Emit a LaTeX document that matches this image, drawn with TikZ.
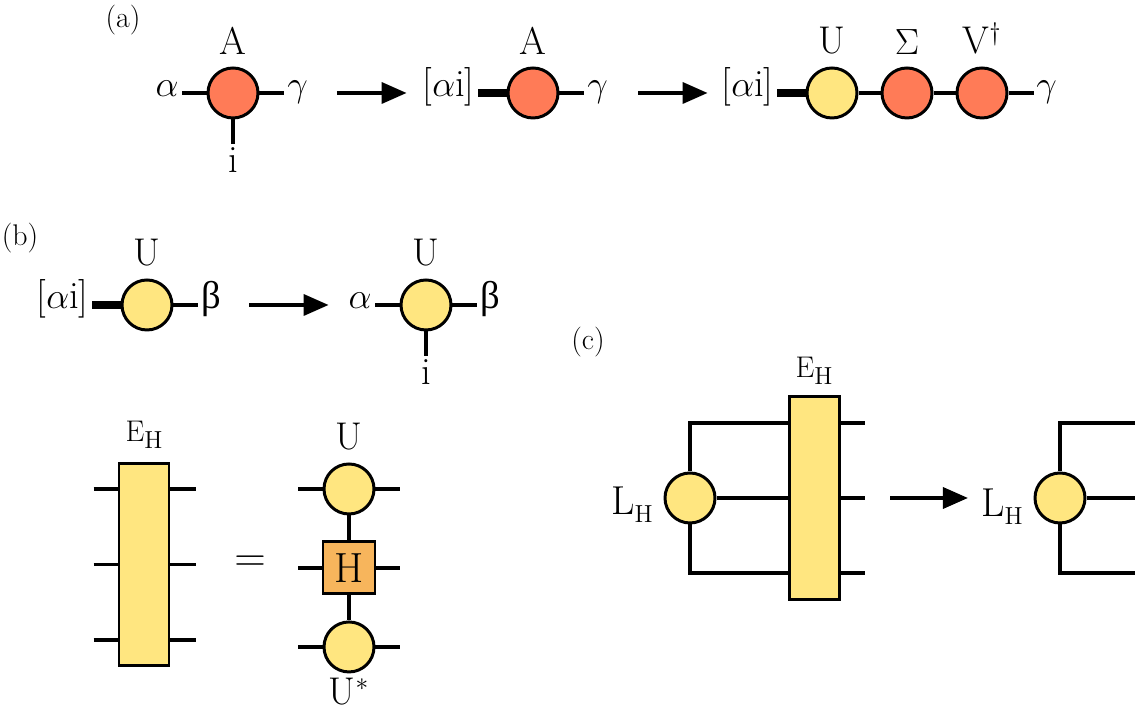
\documentclass[tikz,border=0pt]{standalone}
\usepackage{amsmath}
\usepackage{fontspec}
\usepackage{tikz}
\usetikzlibrary{arrows.meta,positioning}
\newfontfamily\grk{Liberation Serif}
\definecolor{tnred}{HTML}{FF7B57}
\definecolor{tnyellow}{HTML}{FFE680}
\definecolor{tnorange}{HTML}{F7B55C}
\newcommand{\subH}{\raisebox{-4pt}{\fontsize{14}{16}\selectfont H}}

\begin{document}
\begin{tikzpicture}[
    font=\fontsize{22}{26}\selectfont,
    tens/.style={circle,draw,line width=1.7pt,fill=tnred,minimum size=1cm,inner sep=0pt},
    unit/.style={tens,fill=tnyellow},
    hbox/.style={draw,line width=1.7pt,fill=tnorange,minimum size=1.04cm,inner sep=0pt,font=\fontsize{24}{28}\selectfont},
    env/.style={draw,line width=1.7pt,fill=tnyellow,minimum width=1cm,minimum height=4.05cm,inner sep=0pt},
    idx/.style={inner sep=1.5pt,text height=1ex,text depth=0pt},
    leg/.style={line width=2pt},
    fat/.style={line width=5pt},
    arr/.style={-{Triangle[length=5mm,width=4.2mm]},line width=2pt},
    paneltag/.style={font=\fontsize{17}{20}\selectfont},
    nameup/.style={label={[inner sep=0pt,label distance=0.24cm]above:#1}},
    namedown/.style={label={[inner sep=0pt,label distance=0.08cm]below:#1}},
    node distance=0.5cm
  ]
  \useasboundingbox (0,0) rectangle (22.94,14.24);

  % (a) splitting A
  \node[paneltag] (ta) at (2.46,13.84) {(a)};
  \node[tens,nameup=A] (A1) at (4.66,12.38) {};
  \node[idx,left=of A1] (al1) {$\alpha$};
  \node[idx,right=of A1] (ga1) {$\gamma$};
  \node[inner sep=1.5pt,below=of A1] (i1) {i};
  \draw[leg] (A1.west) -- (al1.east);
  \draw[leg] (A1.east) -- (ga1.west);
  \draw[leg] (A1.south) -- (i1.north);

  \node[tens,nameup=A] (A2) at (10.66,12.38) {};
  \node[idx,left=0.58cm of A2] (ai2) {[$\alpha$i]};
  \node[idx,right=of A2] (ga2) {$\gamma$};
  \draw[fat] (A2.west) -- (ai2.east);
  \draw[leg] (A2.east) -- (ga2.west);

  \node[unit,nameup=U] (U3) at (16.64,12.38) {};
  \node[tens,nameup=$\Sigma$] (S3) at (18.14,12.38) {};
  \node[tens,nameup=V$^\dagger$] (V3) at (19.64,12.38) {};
  \node[idx,left=0.58cm of U3] (ai3) {[$\alpha$i]};
  \node[idx,right=of V3] (ga3) {$\gamma$};
  \draw[fat] (U3.west) -- (ai3.east);
  \draw[leg] (U3) -- (S3);
  \draw[leg] (S3) -- (V3);
  \draw[leg] (V3.east) -- (ga3.west);

  \draw[arr,shorten <=0.52cm,shorten >=0.26cm] (ga1.east) -- (ai2.west);
  \draw[arr,shorten <=0.55cm,shorten >=0.22cm] (ga2.east) -- (ai3.west);

  % (b) reshaping U
  \node[paneltag] (tb) at (0.4,9.48) {(b)};
  \node[unit,nameup=U] (U4) at (2.94,8.14) {};
  \node[idx,left=0.58cm of U4] (ai4) {[$\alpha$i]};
  \node[idx,right=of U4] (be4) {{\grk β}};
  \draw[fat] (U4.west) -- (ai4.east);
  \draw[leg] (U4.east) -- (be4.west);

  \node[unit,nameup=U] (U5) at (8.52,8.14) {};
  \node[idx,left=of U5] (al5) {$\alpha$};
  \node[idx,right=of U5] (be5) {{\grk β}};
  \node[inner sep=1.5pt,below=of U5] (i5) {i};
  \draw[leg] (U5.west) -- (al5.east);
  \draw[leg] (U5.east) -- (be5.west);
  \draw[leg] (U5.south) -- (i5.north);

  \draw[arr,shorten <=0.5cm,shorten >=0.34cm] (be4.east) -- (al5.west);

  % E_H = U H U*
  \node[env] (EH1) at (2.88,2.95) {};
  \node[inner sep=0pt,above=0.26cm of EH1,font=\fontsize{17}{20}\selectfont] (eh1) {E\subH};
  \foreach \k/\dy in {1/1.51,2/0,3/-1.51} {
    \path (EH1.west) ++(-0.48,\dy) coordinate (bl\k);
    \path (EH1.east) ++(0.52,\dy) coordinate (br\k);
    \draw[leg] (bl\k) -- (bl\k -| EH1.west);
    \draw[leg] (br\k -| EH1.east) -- (br\k);
  }

  \node[font=\fontsize{24}{28}\selectfont] (eq) at (5.0,2.96) {$=$};

  \node[unit,nameup=U] (U6) at (6.98,4.46) {};
  \node[hbox,below=0.5cm of U6] (Hb) {H};
  \node[unit,namedown=U$^*$,below=0.5cm of Hb] (U7) {};
  \draw[leg] (U6) -- (Hb);
  \draw[leg] (Hb) -- (U7);
  \foreach \n in {U6,Hb,U7} {
    \path (\n.center) ++(-1.02,0) coordinate (\n l);
    \path (\n.center) ++(1.02,0) coordinate (\n r);
    \draw[leg] (\n.west) -- (\n l);
    \draw[leg] (\n.east) -- (\n r);
  }

  % (c) contracting L_H with E_H
  \node[paneltag] (tc) at (11.76,7.4) {(c)};
  \node[env] (EH2) at (16.28,4.28) {};
  \node[inner sep=0pt,above=0.2cm of EH2,font=\fontsize{17}{20}\selectfont] (eh2) {E\subH};
  \coordinate (cT) at (17.3,5.78);
  \coordinate (cM) at (17.3,4.28);
  \coordinate (cB) at (17.3,2.78);
  \foreach \c in {cT,cM,cB}
    \draw[leg] (EH2.east |- \c) -- (\c);

  \node[unit] (LH1) at (13.8,4.28) {};
  \node[anchor=base east,inner sep=0pt,font=\fontsize{23}{27}\selectfont] (lh1) at (13.06,3.94) {L\subH};
  \draw[leg] (LH1.north) |- (EH2.west |- cT);
  \draw[leg] (LH1) -- (EH2.west |- cM);
  \draw[leg] (LH1.south) |- (EH2.west |- cB);

  \node[anchor=base east,inner sep=0pt,font=\fontsize{23}{27}\selectfont] (lh2) at (20.46,3.9) {L\subH};
  \node[unit] (LH2) at (21.2,4.28) {};
  \coordinate (dT) at (22.7,5.78);
  \coordinate (dM) at (22.7,4.28);
  \coordinate (dB) at (22.7,2.78);
  \draw[leg] (LH2.north) |- (dT);
  \draw[leg] (LH2) -- (dM);
  \draw[leg] (LH2.south) |- (dB);

  \draw[arr,shorten <=0.5cm,shorten >=0.26cm] (cM) -- (cM -| lh2.west);
\end{tikzpicture}
\end{document}
